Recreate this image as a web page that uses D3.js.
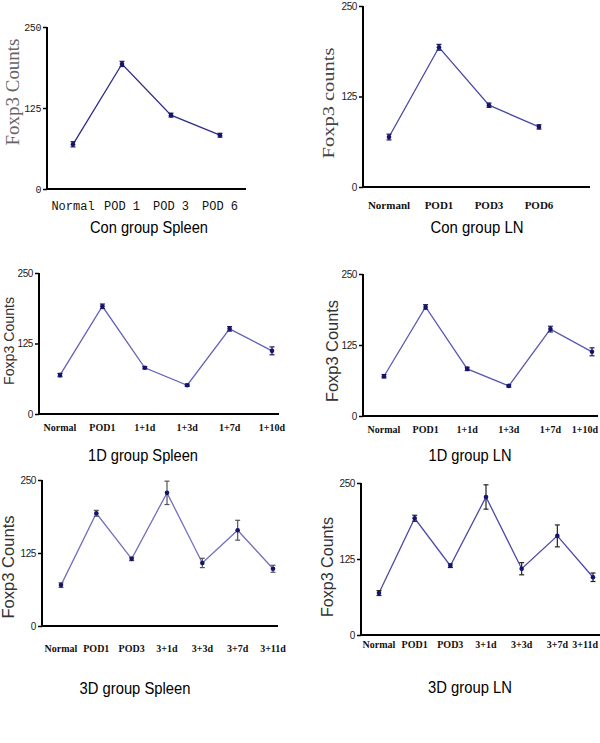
<!DOCTYPE html>
<html>
<head>
<meta charset="utf-8">
<script src="https://cdn.jsdelivr.net/npm/d3@7"></script>
<style>
  body { margin: 0; background: #fff; }
  svg { display: block; }
</style>
</head>
<body>
<div id="chart"></div>
<script>
// y ticks shared by every panel
var yTicks = [0, 125, 250];

// categories
var conSpleenCats = ["Normal", "POD 1", "POD 3", "POD 6"];
var conLNCats = ["Normanl", "POD1", "POD3", "POD6"];
var d1Cats = ["Normal", "POD1", "1+1d", "1+3d", "1+7d", "1+10d"];
var d3Cats = ["Normal", "POD1", "POD3", "3+1d", "3+3d", "3+7d", "3+11d"];

// means and error (half height)
var conSpleenMeans = [69, 193, 114, 83];
var conSpleenErr = [4, 4, 3, 3];
var conLNMeans = [69, 193, 113, 83];
var conLNErr = [4, 4, 3, 3];
var d1SpleenMeans = [69, 191, 82, 51, 151, 112];
var d1SpleenErr = [3, 4, 2, 2, 4, 7];
var d1LNMeans = [70, 192, 83, 53, 153, 113];
var d1LNErr = [3, 4, 3, 2, 5, 7];
var d3SpleenMeans = [70, 193, 115, 228, 108, 164, 98];
var d3SpleenErr = [4, 5, 3, 20, 8, 17, 6];
var d3LNMeans = [69, 192, 114, 227, 109, 163, 95];
var d3LNErr = [4, 5, 3, 20, 10, 18, 7];

var svg = d3.select("#chart")
  .append("svg")
  .attr("width", 600)
  .attr("height", 743);

// layout of each panel (pixel positions on the page)
var panels = [
  {cats: conSpleenCats, means: conSpleenMeans, errs: conSpleenErr, title: "Con group Spleen",
   axisX: 47, axisEnd: 246, px: [73, 220], py: [189, 27], labY: 210, labFont: "'Liberation Mono'", labSize: 12, labWeight: "normal",
   titleX: 149, titleY: 233, titleLen: 118,
   yl: "Foxp3 Counts", ylX: 12, ylY: 92, ylFont: "'Liberation Serif'", ylSize: 19, ylLen: 107, ylColor: "#666",
   tickFont: "'Liberation Mono'", line: "#2e2e8a", errColor: "#1a1a5e"},
  {cats: conLNCats, means: conLNMeans, errs: conLNErr, title: "Con group LN",
   axisX: 363, axisEnd: 590, px: [389, 539], py: [187, 6], labY: 209, labFont: "'Liberation Serif'", labSize: 11, labWeight: "bold",
   titleX: 477, titleY: 233, titleLen: 93,
   yl: "Foxp3 counts", ylX: 328, ylY: 103, ylFont: "'Liberation Serif'", ylSize: 16, ylLen: 111, ylColor: "#444",
   tickFont: "'Liberation Sans'", line: "#4848a8", errColor: "#1a1a5e"},
  {cats: d1Cats, means: d1SpleenMeans, errs: d1SpleenErr, title: "1D group Spleen",
   axisX: 39, axisEnd: 279, px: [60, 272], py: [414, 273], labY: 431, labFont: "'Liberation Serif'", labSize: 10, labWeight: "bold",
   titleX: 143, titleY: 461, titleLen: 110,
   yl: "Foxp3 Counts", ylX: 8, ylY: 341, ylFont: "'Liberation Sans'", ylSize: 15, ylLen: 88, ylColor: "#333",
   tickFont: "'Liberation Sans'", line: "#6262b8", errColor: "#1a1a5e"},
  {cats: d1Cats, means: d1LNMeans, errs: d1LNErr, title: "1D group LN",
   axisX: 363, axisEnd: 598, px: [384, 592], py: [416, 274], labY: 433, labFont: "'Liberation Serif'", labSize: 10, labWeight: "bold",
   titleX: 470, titleY: 461, titleLen: 83,
   yl: "Foxp3 Counts", ylX: 332, ylY: 351, ylFont: "'Liberation Sans'", ylSize: 16, ylLen: 102, ylColor: "#333",
   tickFont: "'Liberation Sans'", line: "#5a5ab4", errColor: "#1a1a5e"},
  {cats: d3Cats, means: d3SpleenMeans, errs: d3SpleenErr, title: "3D group Spleen",
   axisX: 42, axisEnd: 278, px: [61, 273], py: [626, 480], labY: 652, labFont: "'Liberation Serif'", labSize: 10, labWeight: "bold",
   titleX: 135, titleY: 694, titleLen: 111,
   yl: "Foxp3 Counts", ylX: 8, ylY: 567, ylFont: "'Liberation Sans'", ylSize: 16, ylLen: 103, ylColor: "#333",
   tickFont: "'Liberation Sans'", line: "#7070c0", errColor: "#555"},
  {cats: d3Cats, means: d3LNMeans, errs: d3LNErr, title: "3D group LN",
   axisX: 361, axisEnd: 600, px: [379, 593], py: [635, 483], labY: 648, labFont: "'Liberation Serif'", labSize: 10, labWeight: "bold",
   titleX: 470, titleY: 693, titleLen: 84,
   yl: "Foxp3 Counts", ylX: 327, ylY: 567, ylFont: "'Liberation Sans'", ylSize: 16, ylLen: 100, ylColor: "#333",
   tickFont: "'Liberation Sans'", line: "#4a4aa8", errColor: "#222"}
];

panels.forEach(function(p) {
  var g = svg.append("g");

  var xScale = d3.scalePoint()
    .domain(p.cats)
    .range(p.px);

  var yScale = d3.scaleLinear()
    .domain([0, 250])
    .range(p.py);

  // y axis
  var yAxis = d3.axisLeft(yScale)
    .tickValues(yTicks)
    .tickSize(4)
    .tickPadding(2);

  var yAxisG = g.append("g")
    .attr("transform", "translate(" + p.axisX + ",0)")
    .call(yAxis);
  yAxisG.select(".domain").remove();
  yAxisG.append("line")
    .attr("x1", 0).attr("x2", 0)
    .attr("y1", yScale(250)).attr("y2", yScale(0))
    .attr("stroke", "#000").attr("stroke-width", 2);
  yAxisG.selectAll(".tick line").attr("stroke", "#000").attr("stroke-width", 1.5);
  yAxisG.selectAll(".tick text")
    .attr("font-family", p.tickFont)
    .attr("font-size", 10)
    .attr("letter-spacing", -0.4)
    .attr("fill", "#222");

  // x axis line
  g.append("line")
    .attr("x1", p.axisX - 1).attr("x2", p.axisEnd)
    .attr("y1", yScale(0)).attr("y2", yScale(0))
    .attr("stroke", "#000").attr("stroke-width", 2);

  // category labels, kept inside the page on the right
  g.selectAll(".cat")
    .data(p.cats)
    .enter()
    .append("text")
    .attr("class", "cat")
    .attr("y", p.labY)
    .attr("text-anchor", "middle")
    .attr("font-family", p.labFont)
    .attr("font-size", p.labSize)
    .attr("font-weight", p.labWeight)
    .attr("fill", "#111")
    .text(function(d) { return d; })
    .attr("x", function(d) {
      var half = this.getComputedTextLength() / 2;
      return Math.min(xScale(d), 598 - half);
    });

  var pts = p.cats.map(function(c, i) {
    return {cat: c, v: p.means[i], e: p.errs[i]};
  });

  // connecting line
  var line = d3.line()
    .x(function(d) { return xScale(d.cat); })
    .y(function(d) { return yScale(d.v); });

  g.append("path")
    .datum(pts)
    .attr("d", line)
    .attr("fill", "none")
    .attr("stroke", p.line)
    .attr("stroke-width", 1.3);

  // error bars
  var eb = g.selectAll(".eb")
    .data(pts)
    .enter()
    .append("g")
    .attr("class", "eb")
    .attr("stroke", p.errColor)
    .attr("stroke-width", 1.2);

  eb.append("line")
    .attr("x1", function(d) { return xScale(d.cat); })
    .attr("x2", function(d) { return xScale(d.cat); })
    .attr("y1", function(d) { return yScale(d.v + d.e); })
    .attr("y2", function(d) { return yScale(d.v - d.e); });
  eb.append("line")
    .attr("x1", function(d) { return xScale(d.cat) - 2.5; })
    .attr("x2", function(d) { return xScale(d.cat) + 2.5; })
    .attr("y1", function(d) { return yScale(d.v + d.e); })
    .attr("y2", function(d) { return yScale(d.v + d.e); });
  eb.append("line")
    .attr("x1", function(d) { return xScale(d.cat) - 2.5; })
    .attr("x2", function(d) { return xScale(d.cat) + 2.5; })
    .attr("y1", function(d) { return yScale(d.v - d.e); })
    .attr("y2", function(d) { return yScale(d.v - d.e); });

  // markers
  g.selectAll(".pt")
    .data(pts)
    .enter()
    .append("circle")
    .attr("class", "pt")
    .attr("cx", function(d) { return xScale(d.cat); })
    .attr("cy", function(d) { return yScale(d.v); })
    .attr("r", 2.3)
    .attr("fill", "#14146e");

  // y label
  g.append("text")
    .attr("transform", "translate(" + p.ylX + "," + p.ylY + ") rotate(-90)")
    .attr("text-anchor", "middle")
    .attr("dominant-baseline", "central")
    .attr("font-family", p.ylFont)
    .attr("font-size", p.ylSize)
    .attr("textLength", p.ylLen)
    .attr("lengthAdjust", "spacingAndGlyphs")
    .attr("fill", p.ylColor)
    .text(p.yl);

  // panel title
  g.append("text")
    .attr("x", p.titleX)
    .attr("y", p.titleY)
    .attr("text-anchor", "middle")
    .attr("font-family", "'Liberation Sans'")
    .attr("font-size", 17)
    .attr("textLength", p.titleLen)
    .attr("lengthAdjust", "spacingAndGlyphs")
    .attr("fill", "#000")
    .text(p.title);
});
</script>
</body>
</html>
